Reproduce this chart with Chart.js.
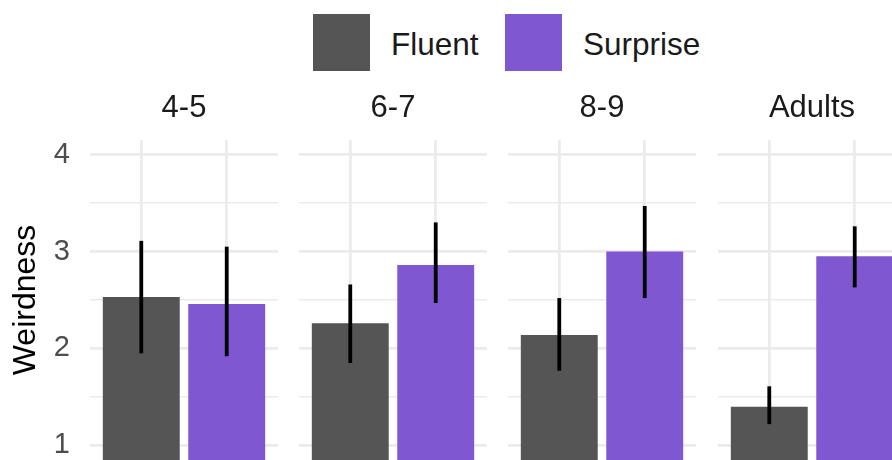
<!DOCTYPE html>
<html>
<head>
<meta charset="utf-8">
<script src="https://cdn.jsdelivr.net/npm/chart.js@4.4.1/dist/chart.umd.min.js"></script>
<style>
  html, body { margin: 0; padding: 0; background: #ffffff; }
  body { position: relative; width: 892px; height: 460px; overflow: hidden;
         font-family: "Liberation Sans", Arial, Helvetica, sans-serif; }
  canvas { position: absolute; top: 0; }
  .key { position: absolute; top: 14px; width: 57px; height: 57px; }
  .key-label { position: absolute; top: 16px; height: 57px; line-height: 57px;
               font-size: 31.5px; color: #1a1a1a; white-space: nowrap; }
</style>
</head>
<body>
<div class="key" id="key0"></div><div class="key-label" id="lab0"></div>
<div class="key" id="key1"></div><div class="key-label" id="lab1"></div>
<script>
// Age groups (one panel each) and the two conditions inside every panel
const ageGroups = ['4-5', '6-7', '8-9', 'Adults'];
const conditions = ['Fluent', 'Surprise'];

// Mean weirdness rating per age group
const fluentMean   = [2.53, 2.26, 2.14, 1.40];
const surpriseMean = [2.46, 2.86, 3.00, 2.95];

// Error bar ends per age group
const fluentLow    = [1.95, 1.85, 1.77, 1.22];
const fluentHigh   = [3.11, 2.66, 2.52, 1.61];
const surpriseLow  = [1.92, 2.47, 2.52, 2.63];
const surpriseHigh = [3.05, 3.30, 3.47, 3.26];

// Labelled y ticks; half steps get lighter grid lines
const yTicks = [1, 2, 3, 4];
const yMinor = [1.5, 2.5, 3.5];

const fills = ['#555555', '#7f57d0'];
const FONT = '"Liberation Sans", Arial, Helvetica, sans-serif';
const GRID = '#ebebeb';

const means = [fluentMean, surpriseMean];
const lows = [fluentLow, surpriseLow];
const highs = [fluentHigh, surpriseHigh];

// Legend
conditions.forEach((name, k) => {
  const key = document.getElementById('key' + k);
  const lab = document.getElementById('lab' + k);
  key.style.background = fills[k];
  key.style.left = (k === 0 ? 313 : 504.5) + 'px';
  lab.style.left = (k === 0 ? 391 : 583) + 'px';
  lab.textContent = name;
});

// Panel placement: the first panel carries the y axis
const axisWidth = 90;
const panelLeft = [0, 299, 508, 718];
const panelWidth = [278, 188, 188, 188];

const allTickValues = yTicks.concat(yMinor).sort((a, b) => a - b);

function clearPadding(s) {
  s.paddingLeft = 0; s.paddingRight = 0; s.paddingTop = 0; s.paddingBottom = 0;
}

ageGroups.forEach((group, i) => {
  const first = i === 0;
  const canvas = document.createElement('canvas');
  canvas.width = panelWidth[i];
  canvas.height = 460;
  canvas.style.left = panelLeft[i] + 'px';
  document.body.appendChild(canvas);

  new Chart(canvas, {
    type: 'bar',
    data: {
      datasets: [
        {
          label: 'interval',
          data: conditions.map((c, k) => ({ x: k + 1, y: [lows[k][i], highs[k][i]] })),
          backgroundColor: '#000000',
          grouped: false,
          maxBarThickness: 3.8,
          order: 0
        },
        {
          label: 'mean',
          data: conditions.map((c, k) => ({ x: k + 1, y: means[k][i] })),
          backgroundColor: fills,
          borderWidth: 0,
          grouped: false,
          barPercentage: 0.9,
          categoryPercentage: 1,
          order: 1
        }
      ]
    },
    options: {
      responsive: false,
      animation: false,
      devicePixelRatio: 1,
      layout: { padding: 0 },
      plugins: { legend: { display: false }, tooltip: { enabled: false } },
      scales: {
        x: {
          type: 'linear',
          position: 'top',
          offset: false,
          min: 0.4,
          max: 2.6,
          afterBuildTicks: s => { s.ticks = [{ value: 1 }, { value: 2 }]; },
          afterFit: s => { s.height = 140; clearPadding(s); },
          ticks: { display: false },
          grid: { color: GRID, lineWidth: 2.8, drawTicks: false, offset: false },
          border: { display: false },
          title: {
            display: true,
            text: group,
            color: '#1a1a1a',
            font: { family: FONT, size: 31 },
            padding: { top: 90, bottom: 0 }
          }
        },
        y: {
          type: 'linear',
          min: 0.85,
          max: 4.15,
          afterBuildTicks: s => { s.ticks = allTickValues.map(v => ({ value: v })); },
          afterFit: s => { s.width = first ? axisWidth : 0; clearPadding(s); },
          ticks: {
            display: first,
            autoSkip: false,
            padding: 20,
            color: '#4d4d4d',
            font: { family: FONT, size: 29 },
            callback: v => (yTicks.includes(v) ? String(v) : '')
          },
          grid: {
            color: GRID,
            lineWidth: ctx => (yTicks.includes(ctx.tick.value) ? 2.8 : 1.5),
            drawTicks: false
          },
          border: { display: false },
          title: {
            display: first,
            text: 'Weirdness',
            color: '#000000',
            font: { family: FONT, size: 32 },
            padding: { top: 7, bottom: 0 }
          }
        }
      }
    }
  });
});
</script>
</body>
</html>
